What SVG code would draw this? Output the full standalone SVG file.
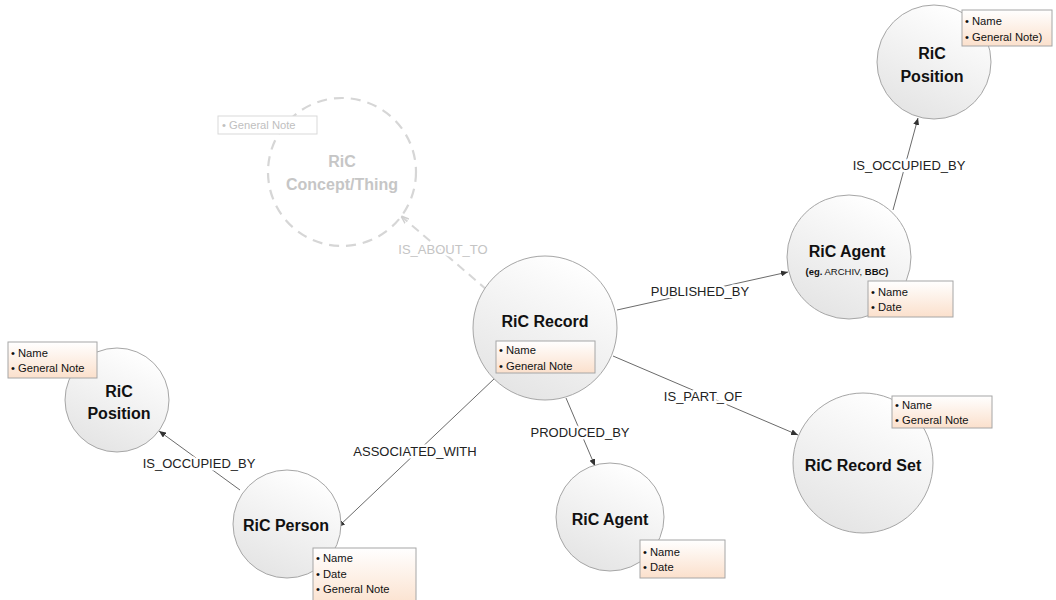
<svg xmlns="http://www.w3.org/2000/svg" width="1056" height="600" viewBox="0 0 1056 600">
<defs>
<linearGradient id="gCircle" x1="0.75" y1="0.05" x2="0.3" y2="1">
<stop offset="0" stop-color="#ffffff"/>
<stop offset="1" stop-color="#e4e4e4"/>
</linearGradient>
<linearGradient id="gBox" x1="0" y1="0" x2="0" y2="1">
<stop offset="0" stop-color="#ffffff"/>
<stop offset="1" stop-color="#fbe0cc"/>
</linearGradient>
<marker id="arr" markerWidth="7" markerHeight="6" refX="7" refY="3" orient="auto" markerUnits="userSpaceOnUse">
<path d="M0,0 L7,3 L0,6 Z" fill="#333"/>
</marker>
<marker id="arrGray" markerWidth="8" markerHeight="7" refX="8" refY="3.5" orient="auto" markerUnits="userSpaceOnUse">
<path d="M0,0.5 L8,3.5 L0,6.5" fill="none" stroke="#cfcfcf" stroke-width="1.5"/>
</marker>
<style>
.c{fill:url(#gCircle);stroke:#a6a6a6;stroke-width:1}
.cd{fill:#fff;stroke:#d6d6d6;stroke-width:2.2;stroke-dasharray:10 7}
.t{font-family:"Liberation Sans",Arial,sans-serif;font-weight:bold;font-size:16px;fill:#111;text-anchor:middle}
.tg{fill:#c6c6c6}
.sub{font-family:"Liberation Sans",Arial,sans-serif;font-size:9.5px;fill:#111;text-anchor:middle}
.b{fill:url(#gBox);stroke:#a6a6a6;stroke-width:1}
.bg{fill:#fff;stroke:#d9d9d9;stroke-width:1}
.a{font-family:"Liberation Sans",Arial,sans-serif;font-size:11.2px;fill:#111}
.ag{fill:#c0c0c0}
.l{stroke:#444;stroke-width:0.8;fill:none;marker-end:url(#arr)}
.ld{stroke:#d6d6d6;stroke-width:2;stroke-dasharray:9 6;fill:none;marker-end:url(#arrGray)}
.lb{font-family:"Liberation Sans",Arial,sans-serif;font-size:13px;fill:#222;text-anchor:middle;stroke:#fff;stroke-width:5;paint-order:stroke;stroke-linejoin:round}
.lbg{fill:#c4c4c4}
</style>
</defs>
<rect width="1056" height="600" fill="#fff"/>

<g id="connectors">
<line class="ld" x1="487" y1="290" x2="401" y2="216"/>
<line class="l" x1="617" y1="310" x2="788" y2="272"/>
<line class="l" x1="893" y1="210" x2="918" y2="118"/>
<line class="l" x1="613" y1="356" x2="798" y2="435"/>
<line class="l" x1="566" y1="398" x2="595" y2="466"/>
<line class="l" x1="495" y1="378" x2="338" y2="527"/>
<line class="l" x1="240" y1="490" x2="159" y2="431"/>
<text class="lb lbg" x="443" y="254">IS_ABOUT_TO</text>
<text class="lb" x="700" y="296">PUBLISHED_BY</text>
<text class="lb" x="909" y="170">IS_OCCUPIED_BY</text>
<text class="lb" x="703" y="401">IS_PART_OF</text>
<text class="lb" x="580" y="437">PRODUCED_BY</text>
<text class="lb" x="415" y="456">ASSOCIATED_WITH</text>
<text class="lb" x="199" y="468">IS_OCCUPIED_BY</text>
</g>

<g id="node-concept">
<circle class="cd" cx="342" cy="172" r="74"/>
<text class="t tg" x="342" y="167">RiC</text>
<text class="t tg" x="342" y="190">Concept/Thing</text>
<rect class="bg" x="218" y="116" width="99" height="18"/>
<text class="a ag" x="222" y="129">• General Note</text>
</g>

<g id="node-record">
<circle class="c" cx="545" cy="328" r="72"/>
<text class="t" x="545" y="327">RiC Record</text>
<rect class="b" x="496" y="341" width="99" height="32"/>
<text class="a" x="499" y="354">• Name</text>
<text class="a" x="499" y="370">• General Note</text>
</g>

<g id="node-agent-top">
<circle class="c" cx="849" cy="257" r="62"/>
<text class="t" x="847" y="257">RiC Agent</text>
<text class="sub" x="847" y="275"><tspan font-weight="bold">(eg.</tspan> ARCHIV, <tspan font-weight="bold">BBC)</tspan></text>
<rect class="b" x="868" y="281" width="85" height="36"/>
<text class="a" x="871" y="296">• Name</text>
<text class="a" x="871" y="311">• Date</text>
</g>

<g id="node-position-top">
<circle class="c" cx="934" cy="62" r="57"/>
<text class="t" x="932" y="59">RiC</text>
<text class="t" x="932" y="82">Position</text>
<rect class="b" x="962" y="10" width="90" height="36"/>
<text class="a" x="965" y="25">• Name</text>
<text class="a" x="965" y="41">• General Note)</text>
</g>

<g id="node-recordset">
<circle class="c" cx="863" cy="463" r="70"/>
<text class="t" x="863" y="471">RiC Record Set</text>
<rect class="b" x="892" y="396" width="100" height="32"/>
<text class="a" x="895" y="409">• Name</text>
<text class="a" x="895" y="424">• General Note</text>
</g>

<g id="node-agent-bottom">
<circle class="c" cx="610" cy="517" r="54"/>
<text class="t" x="610" y="525">RiC Agent</text>
<rect class="b" x="640" y="540" width="85" height="38"/>
<text class="a" x="643" y="556">• Name</text>
<text class="a" x="643" y="571">• Date</text>
</g>

<g id="node-person">
<circle class="c" cx="287" cy="524" r="54"/>
<text class="t" x="286" y="531">RiC Person</text>
<rect class="b" x="313" y="548" width="103" height="60"/>
<text class="a" x="316" y="562">• Name</text>
<text class="a" x="316" y="578">• Date</text>
<text class="a" x="316" y="593">• General Note</text>
</g>

<g id="node-position-left">
<circle class="c" cx="117" cy="400" r="52"/>
<text class="t" x="119" y="397">RiC</text>
<text class="t" x="119" y="419">Position</text>
<rect class="b" x="8" y="342" width="89" height="36"/>
<text class="a" x="11" y="357">• Name</text>
<text class="a" x="11" y="372">• General Note</text>
</g>
</svg>
